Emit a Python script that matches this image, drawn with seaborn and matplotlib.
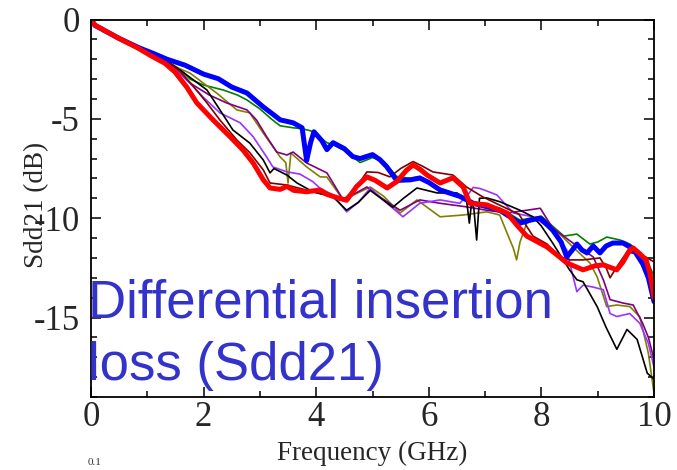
import matplotlib
matplotlib.use("Agg")
import matplotlib.pyplot as plt
import seaborn as sns
import pandas as pd
from matplotlib.ticker import MultipleLocator

# ---------------- data ----------------
blue_x = [0, 0.07, 0.5, 0.85, 1.1, 1.35, 1.67, 2.0, 2.26, 2.5, 2.77, 3.06, 3.2, 3.36, 3.59, 3.75, 3.83, 3.9, 3.96, 4.1, 4.19, 4.3, 4.5, 4.65, 4.78, 5.0, 5.13, 5.25, 5.43, 5.67, 5.84, 6.0, 6.2, 6.55, 6.79, 7.0, 7.26, 7.45, 7.62, 7.8, 7.98, 8.2, 8.35, 8.45, 8.55, 8.63, 8.72, 8.81, 8.92, 9.04, 9.15, 9.27, 9.45, 9.63, 9.8, 9.9, 10.0]
blue_y = [0, -0.3, -0.95, -1.42, -1.7, -2.0, -2.3, -2.75, -2.98, -3.4, -3.7, -4.4, -4.7, -5.05, -5.2, -5.45, -7.1, -6.2, -5.65, -6.1, -6.55, -6.2, -6.5, -6.9, -7.0, -6.8, -7.05, -7.4, -8.1, -8.07, -7.98, -8.2, -8.58, -8.9, -9.25, -9.4, -9.6, -9.95, -10.25, -10.1, -10.0, -10.6, -11.2, -11.95, -11.6, -11.3, -11.6, -11.75, -11.4, -11.75, -11.4, -11.25, -11.25, -11.55, -12.3, -13.0, -14.2]

green_x = [0, 0.07, 0.5, 0.85, 1.1, 1.35, 1.6, 1.76, 2.0, 2.35, 2.6, 2.77, 3.0, 3.2, 3.36, 3.59, 3.75, 3.9, 4.0, 4.19, 4.3, 4.5, 4.78, 5.0, 5.2, 5.43, 5.67, 5.84, 6.0, 6.2, 6.55, 6.79, 7.0, 7.26, 7.45, 7.62, 7.8, 8.0, 8.2, 8.4, 8.63, 8.86, 9.0, 9.16, 9.4, 9.57, 9.75, 9.9, 10.0]
green_y = [0, -0.3, -0.95, -1.42, -1.75, -2.1, -2.55, -3.0, -3.3, -3.55, -3.8, -4.05, -4.5, -5.0, -5.35, -5.45, -5.5, -5.6, -5.8, -6.2, -6.3, -6.6, -7.2, -6.95, -7.15, -7.9, -8.0, -7.9, -8.15, -8.5, -8.85, -9.2, -9.3, -9.5, -9.8, -10.1, -10.0, -9.9, -10.4, -10.9, -10.8, -11.3, -11.2, -10.95, -11.1, -11.3, -11.7, -12.3, -12.9]

red_x = [0, 0.07, 0.48, 0.83, 1.08, 1.31, 1.49, 1.7, 1.88, 2.17, 2.47, 2.7, 2.88, 3.06, 3.18, 3.36, 3.48, 3.6, 3.83, 4.07, 4.19, 4.35, 4.54, 4.72, 4.9, 5.05, 5.26, 5.43, 5.6, 5.72, 5.85, 5.97, 6.2, 6.43, 6.61, 6.73, 7.03, 7.39, 7.55, 7.74, 8.1, 8.3, 8.45, 8.74, 8.95, 9.1, 9.34, 9.45, 9.57, 9.63, 9.75, 9.86, 9.93, 10.0]
red_y = [0, -0.28, -0.93, -1.43, -1.85, -2.2, -2.64, -3.4, -4.2, -5.06, -5.9, -6.57, -7.22, -8.07, -8.48, -8.55, -8.4, -8.6, -8.67, -8.58, -8.8, -8.95, -9.1, -8.4, -7.92, -8.1, -8.48, -8.16, -7.6, -7.32, -7.55, -7.83, -8.23, -7.97, -8.43, -9.25, -9.33, -9.74, -10.3, -10.9, -11.45, -11.9, -12.25, -12.6, -12.4, -12.35, -12.6, -12.2, -11.6, -11.5, -11.8, -12.1, -12.8, -14.0]

black_x = [0, 0.07, 0.5, 0.85, 1.1, 1.35, 1.58, 1.8, 2.06, 2.29, 2.52, 2.82, 3.06, 3.18, 3.25, 3.48, 3.66, 3.94, 4.3, 4.54, 4.75, 4.96, 5.15, 5.36, 5.55, 5.79, 6.15, 6.5, 6.67, 6.72, 6.76, 6.8, 6.85, 6.9, 7.03, 7.26, 7.62, 7.85, 8.0, 8.2, 8.5, 8.63, 8.74, 8.99, 9.15, 9.34, 9.52, 9.7, 9.88, 10.0]
black_y = [0, -0.3, -0.95, -1.42, -1.75, -2.1, -2.54, -3.0, -3.55, -4.55, -5.56, -6.22, -7.07, -7.72, -7.5, -7.83, -8.23, -8.67, -8.93, -9.6, -9.2, -8.6, -9.0, -9.45, -9.0, -8.48, -8.73, -8.73, -9.08, -10.25, -9.2, -9.5, -11.1, -9.0, -8.98, -9.17, -9.6, -9.93, -10.4, -11.25, -12.6, -13.1, -13.2, -14.45, -15.5, -16.6, -15.6, -16.1, -17.8, -18.1]

maroon_x = [0, 0.07, 0.5, 0.85, 1.1, 1.35, 1.58, 1.8, 2.06, 2.29, 2.59, 2.82, 3.06, 3.18, 3.48, 3.94, 4.2, 4.48, 4.7, 4.9, 5.1, 5.31, 5.5, 5.72, 5.9, 6.07, 6.43, 6.67, 6.96, 7.3, 7.6, 7.85, 8.1, 8.33, 8.5, 8.74, 9.04, 9.15, 9.22, 9.34, 9.52, 9.7, 9.85, 10.0]
maroon_y = [0, -0.3, -0.95, -1.42, -1.75, -2.1, -2.6, -3.3, -4.2, -5.06, -6.06, -6.7, -7.57, -8.23, -8.33, -8.67, -8.85, -9.08, -8.5, -7.67, -7.7, -7.92, -7.5, -7.15, -7.4, -7.67, -7.83, -8.43, -8.93, -9.4, -9.8, -10.9, -11.3, -11.95, -12.1, -12.1, -12.0, -12.5, -13.0, -12.45, -11.7, -11.8, -11.95, -12.2]

violet_x = [0, 0.07, 0.5, 0.85, 1.1, 1.35, 1.7, 1.99, 2.29, 2.65, 2.88, 3.12, 3.23, 3.48, 3.71, 3.94, 4.07, 4.3, 4.54, 4.75, 4.96, 5.19, 5.54, 5.84, 6.2, 6.55, 6.7, 6.79, 6.9, 7.0, 7.21, 7.5, 7.85, 8.2, 8.45, 8.55, 8.63, 8.74, 8.92, 9.1, 9.22, 9.34, 9.57, 9.75, 9.9, 10.0]
violet_y = [0, -0.3, -0.95, -1.42, -1.75, -2.15, -3.04, -3.9, -4.7, -5.2, -5.9, -6.92, -7.42, -7.67, -7.78, -8.16, -8.5, -8.83, -9.68, -9.2, -8.48, -9.08, -9.93, -9.25, -9.08, -9.25, -8.8, -8.45, -8.5, -8.6, -8.83, -9.74, -9.93, -10.6, -11.6, -12.8, -13.7, -13.37, -13.47, -13.6, -14.8, -14.95, -14.8, -15.3, -16.3, -17.5]

purple_x = [0, 0.07, 0.5, 0.85, 1.1, 1.35, 1.76, 2.1, 2.41, 2.77, 2.94, 3.12, 3.3, 3.48, 3.59, 3.83, 4.19, 4.3, 4.48, 4.9, 5.13, 5.49, 5.84, 6.2, 6.67, 7.03, 7.39, 7.74, 7.98, 8.2, 8.56, 8.92, 9.1, 9.22, 9.45, 9.63, 9.8, 9.9, 10.0]
purple_y = [0, -0.3, -0.95, -1.42, -1.75, -2.1, -3.2, -3.8, -4.2, -4.55, -5.06, -5.9, -6.67, -6.82, -6.67, -7.22, -7.72, -8.23, -9.08, -8.43, -8.93, -9.6, -9.08, -9.25, -9.43, -9.6, -9.74, -9.6, -9.5, -10.5, -11.25, -11.95, -13.1, -14.1, -14.27, -14.37, -15.3, -16.0, -17.1]

olive_x = [0, 0.07, 0.5, 0.85, 1.1, 1.35, 1.76, 2.24, 2.59, 2.82, 3.06, 3.36, 3.46, 3.5, 3.55, 3.83, 4.07, 4.19, 4.48, 4.96, 5.2, 5.49, 5.79, 6.2, 6.61, 7.03, 7.26, 7.39, 7.5, 7.56, 7.62, 7.74, 7.98, 8.2, 8.56, 8.86, 8.99, 9.16, 9.34, 9.57, 9.75, 9.9, 10.0]
olive_y = [0, -0.3, -0.95, -1.42, -1.75, -2.2, -2.7, -3.72, -4.55, -4.7, -5.72, -6.92, -7.2, -8.23, -6.72, -7.42, -7.92, -7.93, -9.08, -8.43, -8.9, -9.74, -9.08, -9.93, -9.84, -9.68, -9.84, -10.75, -11.5, -12.1, -11.2, -10.25, -9.93, -10.45, -11.45, -12.25, -12.95, -14.45, -14.37, -14.45, -14.97, -16.8, -18.8]

x_ticks = [0, 2, 4, 6, 8, 10]
y_ticks = [0, -5, -10, -15]
x_label = "Frequency (GHz)"
y_label = "Sdd21 (dB)"
overlay_lines = ["Differential insertion", "loss (Sdd21)"]

# ---------------- figure ----------------
sns.set_theme(style="ticks")
plt.rcParams["font.family"] = ["Liberation Serif", "DejaVu Serif"]
plt.rcParams["axes.unicode_minus"] = False

W, H = 677, 470
fig = plt.figure(figsize=(W / 100, H / 100), dpi=100)
left, right, top, bottom = 91, 654, 19.5, 397
ax = fig.add_axes([left / W, 1 - bottom / H, (right - left) / W, (bottom - top) / H])

thin = [
    (green_x, green_y, "#008000"),
    (olive_x, olive_y, "#808000"),
    (purple_x, purple_y, "#800080"),
    (violet_x, violet_y, "#9933FF"),
    (black_x, black_y, "#000000"),
    (maroon_x, maroon_y, "#800000"),
]
for xs, ys, c in thin:
    sns.lineplot(x=xs, y=ys, ax=ax, color=c, lw=1.2, sort=False, estimator=None)
sns.lineplot(x=blue_x, y=blue_y, ax=ax, color="#0000FF", lw=3.6, sort=False, estimator=None)
sns.lineplot(x=red_x, y=red_y, ax=ax, color="#FF0000", lw=3.6, sort=False, estimator=None)

ax.set_xlim(0, 10)
ax.set_ylim(-19, 0)
ax.set_xticks(x_ticks)
ax.set_yticks(y_ticks)
ax.xaxis.set_minor_locator(MultipleLocator(1))
ax.yaxis.set_minor_locator(MultipleLocator(1))
ax.tick_params(which="both", direction="in", top=True, right=True, width=1.1, color="black")
ax.tick_params(which="major", length=7, labelsize=25, pad=3)
ax.tick_params(which="minor", length=4)
ax.tick_params(axis="y", which="major", pad=8)
for s in ax.spines.values():
    s.set_linewidth(1.3)
    s.set_color("black")
ax.set_xlabel(x_label, fontsize=19.5, labelpad=5)
ax.set_ylabel(y_label, fontsize=19.5)
ax.yaxis.set_label_coords(-0.075, 0.51)
ax.grid(False)

# overlay blue caption
blue_txt = "#3333CC"
fig.text(88 / W, 1 - 317 / H, overlay_lines[0], fontsize=38, color=blue_txt,
         family="Liberation Sans", va="baseline", ha="left")
fig.text(88 / W, 1 - 380 / H, overlay_lines[1], fontsize=38, color=blue_txt,
         family="Liberation Sans", va="baseline", ha="left")

# small fragment at the bottom-left
fig.text(88 / W, 1 - 458 / H, "0.1", fontsize=8, color="#333333", va="top", ha="left")

fig.savefig("out.png", dpi=100)
